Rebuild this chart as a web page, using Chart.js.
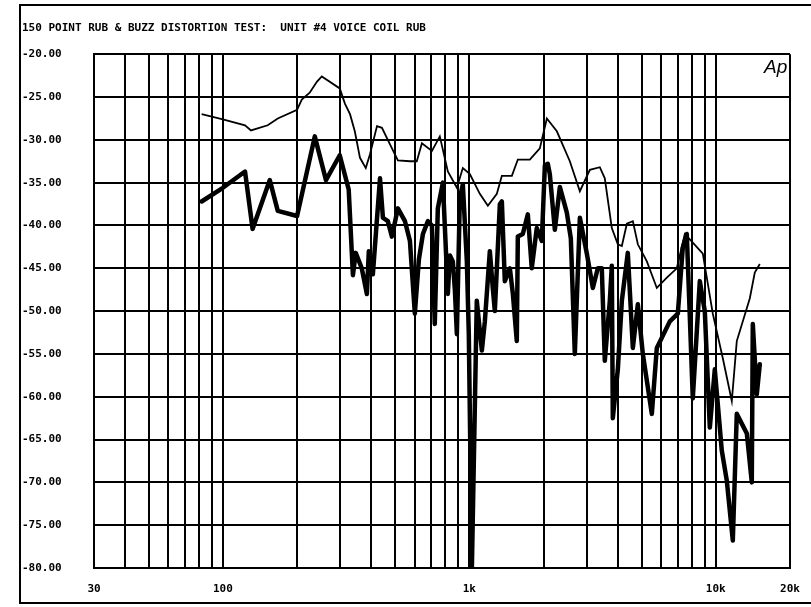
<!DOCTYPE html>
<html>
<head>
<meta charset="utf-8">
<script src="https://cdn.jsdelivr.net/npm/chart.js@4"></script>
<style>
  body { margin: 0; background: #fff; }
  #wrap { position: relative; width: 811px; height: 607px; overflow: hidden; }
  #frame { position: absolute; left: 19px; top: 4px; width: 800px; height: 596px;
           border-left: 2px solid #000; border-top: 2px solid #000; border-bottom: 2px solid #000;
           pointer-events: none; }
  #ap { position: absolute; left: 764px; top: 56px; font: italic 19px "Liberation Sans", sans-serif; color: #000; }
</style>
</head>
<body>
<div id="wrap">
  <canvas id="chart" width="811" height="607"></canvas>
  <div id="frame"></div>
  <div id="ap">Ap</div>
</div>
<script>
const titleText = '150 POINT RUB & BUZZ DISTORTION TEST:  UNIT #4 VOICE COIL RUB';

// vertical grid lines (Hz) and the ones that get a label
const gridFreqs = [30, 40, 50, 60, 70, 80, 90,
  100, 200, 300, 400, 500, 600, 700, 800, 900,
  1000, 2000, 3000, 4000, 5000, 6000, 7000, 8000, 9000,
  10000, 20000];
const labelFreqs = [30, 100, 1000, 10000, 20000];
const labelTexts = ['30', '100', '1k', '10k', '20k'];

// thin trace (upper)
const thinFreq = [82, 100, 123, 130, 152, 167, 200, 209, 225, 241, 252, 298, 313, 328, 343, 360,
  380, 395, 422, 442, 476, 513, 574, 612, 642, 705, 759, 818, 890, 941, 1005, 1103, 1189, 1293,
  1355, 1488, 1573, 1760, 1932, 2063, 2265, 2557, 2808, 3083, 3384, 3545, 3785, 4004, 4157, 4356,
  4607, 4827, 5251, 5763, 6328, 6947, 7485, 8066, 8857, 9723, 10676, 11612, 12165, 13743, 14393, 15083];
const thinDb = [-27.0, -27.6, -28.3, -28.9, -28.3, -27.5, -26.5, -25.3, -24.5, -23.2, -22.6, -24.0, -25.8, -27.0, -29.0, -32.1,
  -33.3, -31.7, -28.4, -28.6, -30.5, -32.4, -32.5, -32.5, -30.4, -31.3, -29.6, -33.7, -35.6, -33.3, -34.0, -36.3, -37.7, -36.3,
  -34.2, -34.2, -32.3, -32.3, -31.0, -27.5, -29.0, -32.5, -36.0, -33.5, -33.2, -34.5, -40.3, -42.2, -42.4, -39.8,
  -39.5, -42.2, -44.2, -47.3, -46.1, -45.0, -41.0, -42.0, -43.3, -50.3, -55.5, -60.5, -53.5, -48.5, -45.5, -44.5];

// thick trace (lower)
const thickFreq = [82, 100, 123, 132, 155, 167, 200, 236, 262, 298, 324, 337, 346, 366, 384, 391,
  406, 434, 446, 467, 485, 513, 548, 574, 601, 624, 648, 679, 705, 724, 745, 781, 818, 834, 857,
  874, 890, 915, 941, 977, 995, 1024, 1072, 1124, 1156, 1211, 1245, 1269, 1330, 1355, 1393, 1460,
  1502, 1558, 1573, 1648, 1727, 1792, 1878, 1968, 2025, 2082, 2121, 2223, 2329, 2486, 2581, 2679,
  2808, 2998, 3170, 3321, 3447, 3545, 3715, 3785, 3821, 4004, 4157, 4395, 4607, 4827, 5057, 5501,
  5763, 6508, 7013, 7345, 7626, 8066, 8612, 9023, 9457, 9906, 10576, 11083, 11722, 12165, 13363,
  13996, 14128, 14665, 15083];
const thickDb = [-37.2, -35.6, -33.7, -40.4, -34.7, -38.3, -38.9, -29.6, -34.7, -31.8, -35.8, -45.8, -43.2, -45.0, -48.0, -43.0,
  -45.7, -34.5, -39.1, -39.5, -41.3, -38.0, -39.5, -41.8, -50.3, -44.0, -41.0, -39.5, -40.0, -51.5, -38.0, -35.0, -48.0, -43.5, -44.2,
  -47.6, -52.7, -36.8, -35.2, -44.2, -52.7, -80.0, -48.8, -54.6, -51.2, -43.0, -47.3, -50.0, -37.5, -37.2, -46.5, -45.0,
  -48.0, -53.5, -41.3, -41.0, -38.7, -45.0, -40.3, -41.8, -33.0, -32.8, -34.0, -40.5, -35.5, -38.5, -41.5, -55.0,
  -39.1, -43.3, -47.3, -45.0, -45.0, -55.8, -48.8, -44.7, -62.5, -56.8, -48.8, -43.2, -54.3, -49.2, -55.0, -62.0,
  -54.3, -51.2, -50.3, -42.6, -41.0, -60.2, -46.5, -50.0, -63.6, -56.8, -66.3, -69.8, -76.8, -62.0, -64.3,
  -70.0, -51.5, -59.7, -56.2];

const monoFont = { family: '"DejaVu Sans Mono", monospace', size: 11, weight: 'bold' };

function toPoints(xs, ys) {
    return xs.map((f, i) => ({ x: f, y: ys[i] }));
}

new Chart(document.getElementById('chart'), {
    type: 'scatter',
    data: {
        datasets: [{
            data: toPoints(thinFreq, thinDb),
            showLine: true,
            borderColor: '#000',
            borderWidth: 1.8,
            pointRadius: 0,
            tension: 0
        }, {
            data: toPoints(thickFreq, thickDb),
            showLine: true,
            borderColor: '#000',
            borderWidth: 4.5,
            borderJoinStyle: 'round',
            borderCapStyle: 'round',
            pointRadius: 0,
            tension: 0
        }]
    },
    options: {
        responsive: false,
        animation: false,
        layout: { padding: { left: 22, right: 21, top: 22, bottom: 0 } },
        plugins: {
            legend: { display: false },
            tooltip: { enabled: false },
            title: {
                display: true,
                text: titleText,
                align: 'start',
                color: '#000',
                font: monoFont,
                padding: { top: 0, bottom: 19 }
            }
        },
        scales: {
            x: {
                type: 'logarithmic',
                min: 30,
                max: 20000,
                afterBuildTicks: s => { s.ticks = gridFreqs.map(v => ({ value: v })); },
                afterFit: s => { s.height = 39; s.paddingLeft = 0; s.paddingRight = 0; },
                ticks: {
                    autoSkip: false,
                    maxRotation: 0,
                    padding: 15,
                    color: '#000',
                    font: monoFont,
                    callback: v => {
                        const i = labelFreqs.indexOf(v);
                        return i < 0 ? '' : labelTexts[i];
                    }
                },
                grid: { color: '#000', lineWidth: 2, drawTicks: false },
                border: { color: '#000', width: 2 }
            },
            y: {
                min: -80,
                max: -20,
                afterFit: s => { s.width = 72; },
                ticks: {
                    stepSize: 5,
                    crossAlign: 'far',
                    color: '#000',
                    font: monoFont,
                    callback: v => v.toFixed(2)
                },
                grid: { color: '#000', lineWidth: 2, drawTicks: false },
                border: { color: '#000', width: 2 }
            }
        }
    }
});
</script>
</body>
</html>
